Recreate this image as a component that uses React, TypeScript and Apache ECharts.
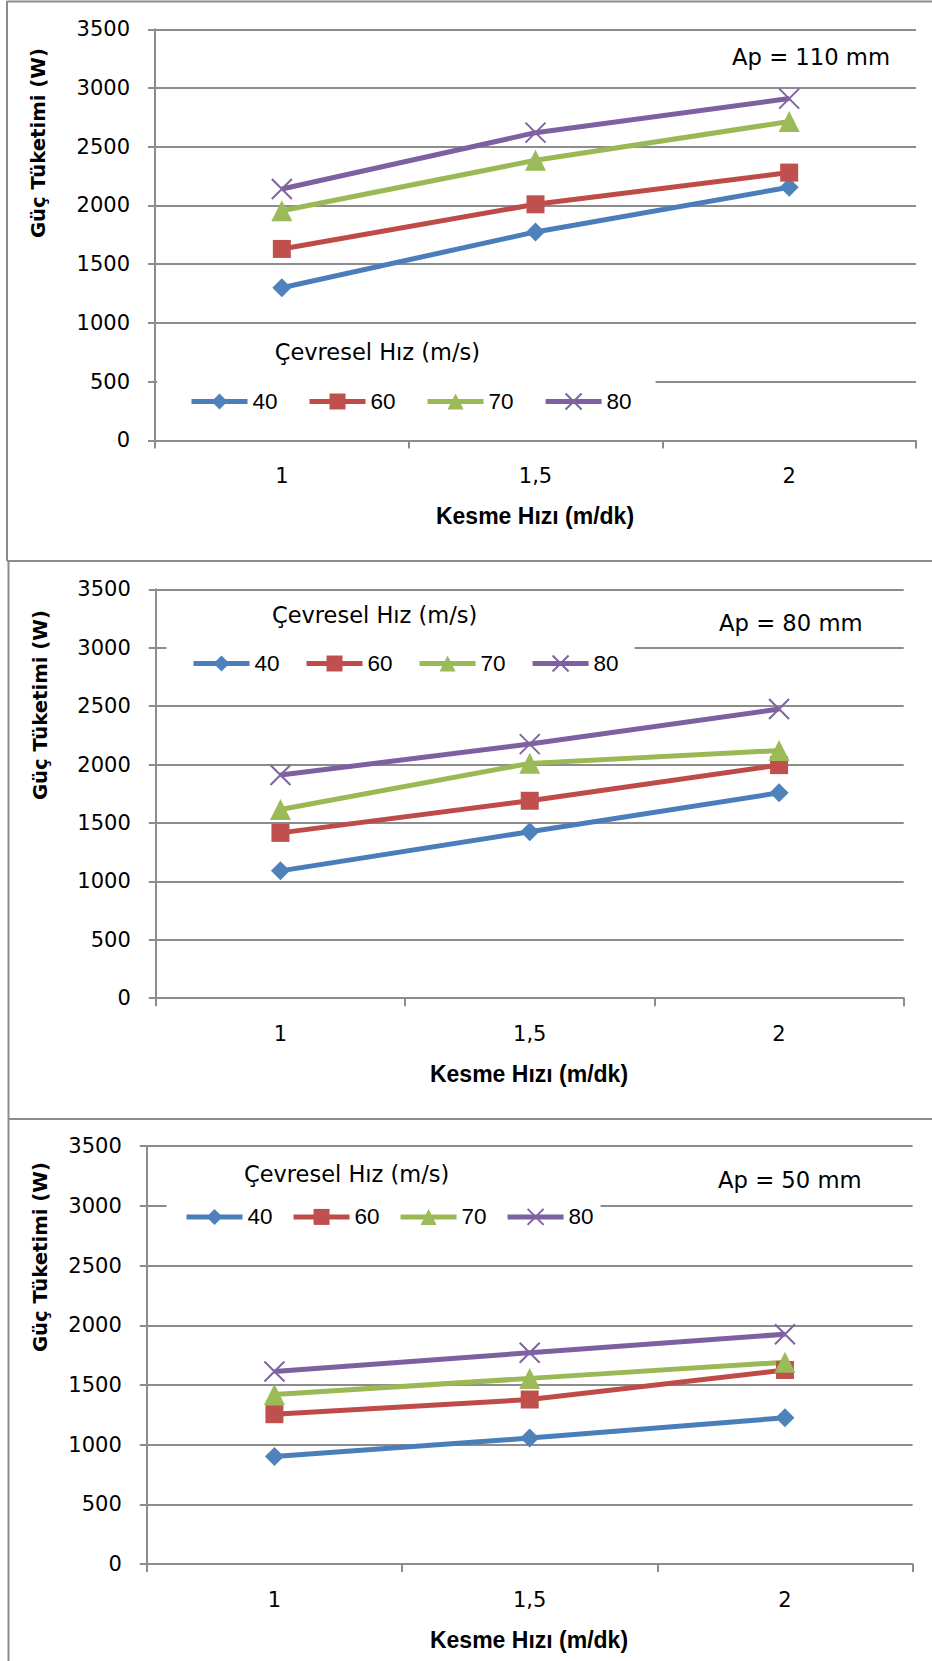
import React, { useEffect, useRef } from 'react';
import * as echarts from 'echarts';

// ---- data ----
const categories = ['1', '1,5', '2'];
const speedNames = ['40', '60', '70', '80'];
const yTickMin = 0;
const yTickMax = 3500;
const yTickStep = 500;

// Ap = 110 mm
const ap110_s40 = [1300, 1775, 2155];
const ap110_s60 = [1630, 2010, 2280];
const ap110_s70 = [1955, 2385, 2715];
const ap110_s80 = [2140, 2620, 2910];
// Ap = 80 mm
const ap80_s40 = [1090, 1425, 1758];
const ap80_s60 = [1415, 1690, 1995];
const ap80_s70 = [1615, 2010, 2120];
const ap80_s80 = [1910, 2175, 2475];
// Ap = 50 mm
const ap50_s40 = [900, 1055, 1225];
const ap50_s60 = [1255, 1378, 1625];
const ap50_s70 = [1420, 1555, 1690];
const ap50_s80 = [1612, 1770, 1925];

const panelTitles = ['Ap = 110 mm', 'Ap = 80 mm', 'Ap = 50 mm'];
const panelData = [
  [ap110_s40, ap110_s60, ap110_s70, ap110_s80],
  [ap80_s40, ap80_s60, ap80_s70, ap80_s80],
  [ap50_s40, ap50_s60, ap50_s70, ap50_s80],
];
const legendTitle = 'Çevresel Hız (m/s)';
const xName = 'Kesme Hızı (m/dk)';
const yName = 'Güç Tüketimi (W)';

// ---- layout / style ----
const W = 932;
const H = 1661;
const GRAY = '#8c8c8c';
const NUM_FONT = 'DejaVu Sans';
const LEG_FONT = 'Liberation Sans';
const LINE_W = 5;

const layouts = [
  {
    grid: { left: 155, top: 29.3, width: 761, height: 411.1 },
    legend: { left: 157, top: 332, padding: [58, 24, 22, 32], itemGap: 29.5 },
    legTitle: { x: 274.7, y: 352 },
    ap: { x: 732, y: 57 },
    yName: { x: 38.6, y: 143 },
    xName: { x: 535, y: 516 },
  },
  {
    grid: { left: 155.8, top: 589.3, width: 747.9, height: 408.9 },
    legend: { left: 166.5, top: 596, padding: [56, 16, 18, 24.5], itemGap: 24.5 },
    legTitle: { x: 272, y: 614.7 },
    ap: { x: 719, y: 622.7 },
    yName: { x: 40, y: 705 },
    xName: { x: 529, y: 1073.5 },
  },
  {
    grid: { left: 146.8, top: 1146.2, width: 765.8, height: 417.8 },
    legend: { left: 166.5, top: 1152, padding: [53.4, 7, 20, 17.5], itemGap: 18.5 },
    legTitle: { x: 244, y: 1174 },
    ap: { x: 718, y: 1180 },
    yName: { x: 40, y: 1257 },
    xName: { x: 529, y: 1640 },
  },
];

const markers = [
  { symbol: 'diamond', size: 19, fill: '#4F81BD', line: '#4A7EBB', border: 0 },
  { symbol: 'rect', size: 18, fill: '#C0504D', line: '#BE4B48', border: 0 },
  { symbol: 'triangle', size: 21, fill: '#9BBB59', line: '#98B954', border: 0 },
  { symbol: 'path://M0,0L20,20M20,0L0,20', size: 20, fill: '#8064A2', line: '#7D60A0', border: 2 },
];

function buildOption() {
  const grid: any[] = [];
  const xAxis: any[] = [];
  const yAxis: any[] = [];
  const series: any[] = [];
  const legend: any[] = [];
  const graphic: any[] = [];

  layouts.forEach((L, p) => {
    grid.push({ ...L.grid, containLabel: false, outerBoundsMode: 'none' });
    xAxis.push({
      type: 'category',
      gridIndex: p,
      data: categories,
      boundaryGap: true,
      axisLine: { show: true, lineStyle: { color: GRAY, width: 2 } },
      axisTick: { show: true, length: 8, lineStyle: { color: GRAY, width: 2 } },
      axisLabel: { fontSize: 21, fontFamily: NUM_FONT, color: '#000', margin: 25 },
      splitLine: { show: false },
    });
    yAxis.push({
      type: 'value',
      gridIndex: p,
      min: yTickMin,
      max: yTickMax,
      interval: yTickStep,
      axisLine: { show: true, lineStyle: { color: GRAY, width: 2 } },
      axisTick: { show: true, length: 7, lineStyle: { color: GRAY, width: 2 } },
      axisLabel: {
        fontSize: 21,
        fontFamily: NUM_FONT,
        color: '#000',
        margin: 25,
        formatter: (v: number) => String(v),
      },
      splitLine: { show: true, lineStyle: { color: GRAY, width: 2 } },
    });
    panelData[p].forEach((vals, i) => {
      const m = markers[i];
      series.push({
        type: 'line',
        name: speedNames[i],
        xAxisIndex: p,
        yAxisIndex: p,
        data: vals,
        symbol: m.symbol,
        symbolSize: m.size,
        showSymbol: true,
        lineStyle: { color: m.line, width: LINE_W },
        itemStyle: {
          color: m.fill,
          borderColor: m.fill,
          borderWidth: m.border,
        },
        emphasis: { disabled: true },
      });
    });
    legend.push({
      data: speedNames,
      left: L.legend.left,
      top: L.legend.top,
      padding: L.legend.padding,
      itemGap: L.legend.itemGap,
      itemWidth: 56,
      itemHeight: 20,
      orient: 'horizontal',
      backgroundColor: '#ffffff',
      selectedMode: false,
      lineStyle: { width: LINE_W },
      textStyle: { fontSize: 22.5, fontFamily: LEG_FONT, color: '#000', lineHeight: 20 },
    });
    graphic.push({
      type: 'text',
      x: L.legTitle.x,
      y: L.legTitle.y,
      z: 100,
      style: {
        text: legendTitle,
        fontSize: 22.5,
        fontFamily: NUM_FONT,
        fill: '#000',
        align: 'left',
        verticalAlign: 'middle',
      },
    });
    graphic.push({
      type: 'text',
      x: L.ap.x,
      y: L.ap.y,
      z: 100,
      style: {
        text: panelTitles[p],
        fontSize: 22.7,
        fontFamily: NUM_FONT,
        fill: '#000',
        align: 'left',
        verticalAlign: 'middle',
      },
    });
    graphic.push({
      type: 'text',
      x: L.yName.x,
      y: L.yName.y,
      rotation: Math.PI / 2,
      z: 100,
      style: {
        text: yName,
        fontSize: 19.7,
        fontWeight: 'bold',
        fontFamily: NUM_FONT,
        fill: '#000',
        align: 'center',
        verticalAlign: 'middle',
      },
    });
    graphic.push({
      type: 'text',
      x: L.xName.x,
      y: L.xName.y,
      z: 100,
      style: {
        text: xName,
        fontSize: 23,
        fontWeight: 'bold',
        fontFamily: LEG_FONT,
        fill: '#000',
        align: 'center',
        verticalAlign: 'middle',
      },
    });
  });

  // panel borders
  const borderLines = [
    [7, 1, 7, 561],
    [7, 1.5, W, 1.5],
    [7, 561, W, 561],
    [8.5, 561, 8.5, 1119],
    [8, 1119, W, 1119],
    [8.5, 1119, 8.5, H],
  ];
  borderLines.forEach(([x1, y1, x2, y2]) => {
    graphic.push({
      type: 'line',
      z: 100,
      shape: { x1, y1, x2, y2 },
      style: { stroke: GRAY, lineWidth: 2 },
    });
  });

  return {
    animation: false,
    backgroundColor: '#ffffff',
    grid,
    xAxis,
    yAxis,
    series,
    legend,
    graphic,
  };
}

export default function App() {
  const ref = useRef<HTMLDivElement>(null);
  useEffect(() => {
    if (!ref.current) return;
    const chart = echarts.init(ref.current, null, { renderer: 'svg' });
    chart.setOption(buildOption() as any);
    return () => chart.dispose();
  }, []);
  return (
    <div
      ref={ref}
      style={{ position: 'absolute', left: 0, top: 0, width: W, height: H }}
    />
  );
}
